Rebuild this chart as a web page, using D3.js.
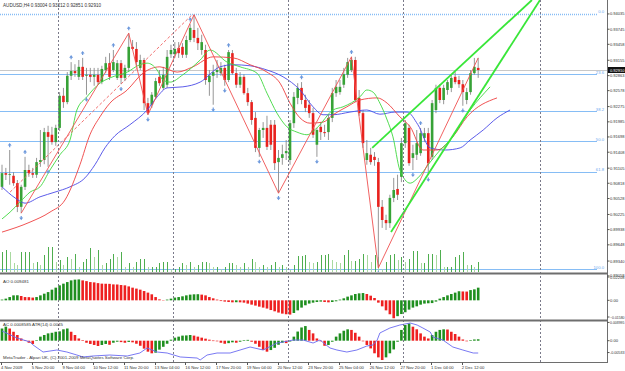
<!DOCTYPE html>
<html><head><meta charset="utf-8">
<script src="https://cdn.jsdelivr.net/npm/d3@7"></script>
<style>
body{margin:0;background:#fff;overflow:hidden}
svg{display:block;font-family:"Liberation Sans",Arial,sans-serif}
</style></head><body>
<svg id="chart" width="625" height="371"></svg>
<script>
// AUDUSD H4 bars, [open, high, low, close]
const ohlc = [
[0.9075,0.9117,0.9069,0.9101],[0.9101,0.9111,0.9088,0.9098],[0.9098,0.9145,0.9079,0.9099],[0.9096,0.9103,0.9077,0.9082],
[0.9082,0.9088,0.9027,0.9037],[0.9037,0.9079,0.9025,0.9075],[0.9075,0.9132,0.9069,0.9107],[0.9107,0.9117,0.9094,0.9101],
[0.9101,0.9111,0.9092,0.9098],[0.9098,0.9130,0.9092,0.9122],[0.9122,0.9183,0.9113,0.9126],[0.9126,0.9187,0.9118,0.9179],
[0.9179,0.9191,0.9113,0.9170],[0.9174,0.9189,0.9155,0.9160],[0.9160,0.9193,0.9153,0.9187],[0.9187,0.9255,0.9181,0.9248],
[0.9248,0.9263,0.9225,0.9236],[0.9236,0.9293,0.9232,0.9286],[0.9286,0.9312,0.9278,0.9295],[0.9295,0.9308,0.9284,0.9291],
[0.9284,0.9316,0.9278,0.9303],[0.9303,0.9320,0.9278,0.9284],[0.9286,0.9301,0.9250,0.9288],[0.9288,0.9301,0.9274,0.9284],
[0.9284,0.9301,0.9267,0.9288],[0.9288,0.9301,0.9270,0.9274],[0.9274,0.9305,0.9270,0.9299],[0.9297,0.9322,0.9291,0.9310],
[0.9310,0.9329,0.9278,0.9284],[0.9297,0.9335,0.9293,0.9312],[0.9282,0.9316,0.9278,0.9310],[0.9310,0.9316,0.9270,0.9282],
[0.9282,0.9307,0.9276,0.9301],[0.9301,0.9367,0.9293,0.9341],[0.9341,0.9354,0.9335,0.9337],[0.9337,0.9350,0.9305,0.9312],
[0.9301,0.9326,0.9297,0.9316],[0.9316,0.9320,0.9221,0.9234],[0.9234,0.9244,0.9212,0.9215],[0.9231,0.9255,0.9225,0.9250],
[0.9246,0.9282,0.9242,0.9276],[0.9284,0.9297,0.9267,0.9272],[0.9263,0.9303,0.9259,0.9288],[0.9269,0.9335,0.9263,0.9322],
[0.9327,0.9345,0.9320,0.9335],[0.9327,0.9350,0.9320,0.9337],[0.9339,0.9350,0.9320,0.9329],[0.9341,0.9348,0.9320,0.9326],
[0.9326,0.9362,0.9320,0.9354],[0.9354,0.9384,0.9350,0.9377],[0.9373,0.9402,0.9350,0.9358],[0.9358,0.9377,0.9335,0.9348],
[0.9335,0.9364,0.9326,0.9350],[0.9335,0.9345,0.9269,0.9278],[0.9274,0.9297,0.9248,0.9286],[0.9286,0.9307,0.9231,0.9293],
[0.9293,0.9316,0.9282,0.9297],[0.9291,0.9312,0.9286,0.9301],[0.9301,0.9307,0.9267,0.9278],[0.9278,0.9335,0.9274,0.9331],
[0.9329,0.9335,0.9288,0.9291],[0.9291,0.9301,0.9263,0.9269],[0.9269,0.9293,0.9263,0.9284],[0.9284,0.9289,0.9250,0.9253],
[0.9253,0.9263,0.9229,0.9236],[0.9236,0.9240,0.9193,0.9202],[0.9206,0.9217,0.9141,0.9149],[0.9149,0.9187,0.9132,0.9183],
[0.9183,0.9198,0.9168,0.9187],[0.9187,0.9210,0.9145,0.9151],[0.9193,0.9202,0.9145,0.9155],[0.9193,0.9202,0.9107,0.9120],
[0.9122,0.9145,0.9063,0.9130],[0.9130,0.9155,0.9117,0.9137],[0.9139,0.9164,0.9126,0.9143],[0.9126,0.9202,0.9117,0.9196],
[0.9196,0.9255,0.9187,0.9246],[0.9244,0.9272,0.9232,0.9263],[0.9263,0.9274,0.9232,0.9240],[0.9240,0.9250,0.9217,0.9225],
[0.9231,0.9240,0.9206,0.9215],[0.9215,0.9225,0.9168,0.9174],[0.9155,0.9187,0.9132,0.9183],[0.9189,0.9198,0.9164,0.9179],
[0.9179,0.9193,0.9170,0.9177],[0.9179,0.9212,0.9164,0.9206],[0.9206,0.9263,0.9198,0.9253],[0.9253,0.9278,0.9246,0.9265],
[0.9255,0.9278,0.9250,0.9265],[0.9269,0.9301,0.9263,0.9289],[0.9288,0.9320,0.9282,0.9312],[0.9297,0.9322,0.9293,0.9316],
[0.9316,0.9322,0.9236,0.9240],[0.9244,0.9259,0.9210,0.9215],[0.9215,0.9221,0.9149,0.9158],[0.9126,0.9164,0.9117,0.9139],
[0.9136,0.9149,0.9117,0.9122],[0.9132,0.9141,0.9115,0.9126],[0.9122,0.9130,0.8921,0.9037],[0.9037,0.9050,0.8997,0.9012],
[0.9012,0.9022,0.8993,0.9006],[0.9006,0.9060,0.8997,0.9054],[0.9054,0.9092,0.9046,0.9069],[0.9071,0.9098,0.9050,0.9060],
[0.9094,0.9168,0.9084,0.9158],[0.9158,0.9202,0.9149,0.9196],[0.9187,0.9193,0.9115,0.9120],[0.9130,0.9155,0.9107,0.9139],
[0.9136,0.9183,0.9126,0.9158],[0.9139,0.9187,0.9134,0.9177],[0.9168,0.9187,0.9160,0.9177],[0.9177,0.9187,0.9098,0.9120],
[0.9132,0.9240,0.9126,0.9234],[0.9221,0.9269,0.9215,0.9263],[0.9263,0.9270,0.9234,0.9240],[0.9240,0.9269,0.9232,0.9263],
[0.9259,0.9278,0.9250,0.9274],[0.9263,0.9288,0.9255,0.9282],[0.9284,0.9293,0.9270,0.9274],[0.9278,0.9286,0.9263,0.9270],
[0.9270,0.9278,0.9229,0.9255],[0.9240,0.9263,0.9232,0.9255],[0.9255,0.9297,0.9250,0.9291],[0.9291,0.9320,0.9288,0.9303],
[0.9301,0.9320,0.9282,0.9297]
];

const volume = [4000,4400,4000,1800,1400,4000,4000,4000,1800,2000,1400,3400,5000,5000,2000,2400,1400,3000,2600,3600,
1000,2000,2600,4800,3000,4400,1400,1800,2600,3600,3000,4000,1000,1800,1000,2000,2600,2600,1000,1000,1000,1800,2000,2000,
600,600,1000,1800,1400,2000,1000,1400,2000,2000,1800,1000,1000,600,1000,1800,1800,1400,1000,1800,1000,2600,2000,1000,
1400,1000,1400,2000,1000,1400,1000,400,1400,3200,3200,3400,2000,1800,2000,3400,3400,3600,2400,2000,1800,3400,4400,2200,
2200,2600,3600,3400,2000,3400,3000,600,2000,3400,3600,2400,3000,2000,2600,4200,4200,1800,1800,3600,3600,3400,4400,1000,
1000,1000,3000,3400,4000,1400,1400,1000,2000];

const ao = [0.0007,0.0016,0.0031,0.0047,0.0048,0.0041,0.0031,0.0030,0.0026,0.0031,0.0047,0.0063,0.0078,0.0101,0.0120,
0.0142,0.0158,0.0173,0.0189,0.0196,0.0198,0.0189,0.0182,0.0173,0.0170,0.0163,0.0158,0.0157,0.0156,0.0151,0.0150,0.0145,
0.0142,0.0132,0.0120,0.0111,0.0101,0.0088,0.0073,0.0057,0.0031,0.0009,0.0003,0.0007,0.0016,0.0026,0.0031,0.0038,0.0047,
0.0054,0.0057,0.0058,0.0054,0.0047,0.0031,0.0019,0.0007,-0.0007,-0.0012,-0.0016,-0.0019,-0.0018,-0.0019,-0.0022,-0.0031,
-0.0041,-0.0050,-0.0060,-0.0069,-0.0078,-0.0092,-0.0104,-0.0116,-0.0126,-0.0132,-0.0135,-0.0120,-0.0095,-0.0069,-0.0047,
-0.0031,-0.0022,-0.0016,-0.0012,-0.0016,-0.0019,-0.0016,-0.0009,0.0007,0.0019,0.0035,0.0047,0.0060,0.0066,0.0069,0.0060,
0.0044,0.0022,-0.0022,-0.0057,-0.0095,-0.0132,-0.0170,-0.0150,-0.0130,-0.0113,-0.0088,-0.0069,-0.0057,-0.0041,-0.0031,
-0.0028,-0.0026,-0.0012,0.0016,0.0031,0.0047,0.0060,0.0073,0.0086,0.0084,0.0083,0.0097,0.0104,0.0120];

const ac = [0.0060,0.0069,0.0060,0.0044,0.0028,0.0011,0.0003,-0.0010,-0.0016,0.0003,0.0020,0.0028,0.0036,0.0039,0.0044,
0.0046,0.0056,0.0060,0.0044,0.0028,0.0011,0.0003,-0.0010,-0.0016,-0.0021,-0.0026,-0.0021,-0.0016,-0.0020,-0.0010,-0.0005,
-0.0007,-0.0010,-0.0006,-0.0008,-0.0015,-0.0025,-0.0039,-0.0054,-0.0062,-0.0059,-0.0044,-0.0030,-0.0015,0.0005,0.0015,
0.0020,0.0025,0.0026,0.0028,0.0025,0.0020,0.0015,0.0010,0.0005,0.0001,-0.0003,-0.0010,-0.0015,-0.0012,-0.0008,-0.0010,
-0.0005,0.0002,0.0004,-0.0005,-0.0015,-0.0030,-0.0045,-0.0054,-0.0046,-0.0035,-0.0020,-0.0010,-0.0012,-0.0004,0.0020,
0.0045,0.0065,0.0072,0.0053,0.0036,0.0011,0.0000,-0.0025,-0.0021,-0.0005,0.0020,0.0036,0.0049,0.0056,0.0053,0.0039,
0.0020,0.0000,-0.0021,-0.0038,-0.0062,-0.0082,-0.0095,-0.0082,-0.0062,-0.0043,-0.0005,0.0053,0.0077,0.0085,0.0069,0.0056,
0.0036,0.0020,0.0011,0.0028,0.0044,0.0053,0.0056,0.0055,0.0044,0.0033,0.0020,0.0006,0.0000,0.0003,0.0006,0.0007];

// ATR(14) line, [bar, value]
const atr = [[0,0.00743],[3.9,0.0065],[7.3,0.00597],[8.1,0.00557],[10.7,0.00463],[14.3,0.0049],[16.9,0.00463],[19.5,0.00423],
[21.1,0.00397],[23.7,0.0041],[28.1,0.00423],[32.6,0.0041],[35.9,0.0045],[37.8,0.00517],[40.4,0.00463],[43,0.0045],[46.4,0.00397],
[50.8,0.00383],[51.6,0.00357],[53.4,0.00423],[56,0.0045],[59.4,0.0045],[62,0.0049],[64.6,0.0053],[68,0.0049],[71.6,0.00583],
[73.2,0.00597],[75.8,0.00623],[78.4,0.00623],[81,0.00583],[82.8,0.00623],[85.4,0.00517],[87.2,0.0049],[89.8,0.00463],
[92.4,0.0049],[95,0.00543],[96.6,0.00557],[97.7,0.00623],[98.4,0.00717],[101,0.00783],[103.6,0.00823],[106.3,0.0085],
[108.1,0.00823],[109.6,0.00783],[111.5,0.0073],[112.2,0.00663],[114.8,0.00623],[117.4,0.0053],[120,0.0049],[122.7,0.0045],[124,0.0045]];

// Alligator, [bar incl. shift, price]
const jaw = [[0,0.9075],[3.4,0.9054],[6,0.9044],[9.9,0.9056],[13.8,0.9065],[17.7,0.9075],[21.6,0.9092],[24.2,0.9117],[26.8,0.9149],
[29.4,0.9172],[33.3,0.9193],[37.8,0.9221],[40.4,0.9246],[43,0.9263],[47.1,0.9265],[51.6,0.9274],[56.8,0.9303],[60.2,0.9307],
[64.6,0.9305],[69,0.9297],[73.2,0.9284],[77.6,0.9259],[81,0.9227],[83.6,0.9212],[86.2,0.9212],[90.6,0.9217],[95,0.9221],
[98.4,0.9213],[102.3,0.9217],[105.5,0.9217],[108.3,0.9193],[111.5,0.9149],[115.4,0.9145],[119.3,0.9149],[121.9,0.9164],
[125.3,0.9183],[128.9,0.9206],[132.3,0.9221]];
const teeth = [[0,0.8989],[7.3,0.9008],[12.5,0.9027],[16.4,0.9050],[20.3,0.9117],[22.9,0.9174],[25.5,0.9208],[28.1,0.9234],
[32.6,0.9259],[36.7,0.9291],[41.1,0.9303],[45.6,0.9293],[49.7,0.9303],[55,0.9322],[60.2,0.9320],[64.6,0.9307],[69,0.9293],
[72.4,0.9272],[75,0.9234],[77.6,0.9206],[80.2,0.9196],[83.6,0.9198],[86.2,0.9212],[89.8,0.9227],[93.2,0.9240],[97.7,0.9244],
[100.3,0.9234],[103.6,0.9208],[106.3,0.9189],[109.6,0.9145],[113.3,0.9145],[117.4,0.9170],[121.1,0.9208],[128.9,0.9244]];
const lips = [[0,0.9014],[2.1,0.9027],[4.7,0.9046],[7.3,0.9065],[9.9,0.9075],[12.5,0.9107],[15.1,0.9136],[17.7,0.9164],
[19.5,0.9221],[22.1,0.9246],[25.5,0.9272],[28.1,0.9282],[32.6,0.9293],[35.9,0.9307],[37.8,0.9310],[40.4,0.9297],[41.9,0.9278],
[43.8,0.9274],[47.1,0.9288],[51.6,0.9316],[54.2,0.9335],[58.6,0.9312],[62,0.9303],[66.4,0.9291],[69,0.9253],[71.6,0.9215],
[74.2,0.9189],[76.8,0.9179],[79.4,0.9174],[82,0.9187],[86.2,0.9221],[88.8,0.9227],[93.2,0.9246],[95,0.9259],[96.6,0.9255],
[98.4,0.9234],[100.3,0.9202],[101.8,0.9170],[103.6,0.9107],[106.3,0.9082],[108.3,0.9092],[111.5,0.9122],[114.1,0.9145],
[116.7,0.9164],[121.9,0.9221],[127.1,0.9265]];

const zigzag = [[5,"L"],[33,"H"],[38,"L"],[50,"H"],[72,"L"],[91,"H"],[98,"L"],[124,"H"]];
const fractalUp = [2,6,18,21,29,33,49,59,78,91,109];
const fractalDown = [5,12,22,31,38,55,58,67,72,82,98,107,111,120];
const channelUpper = [[96.4,0.9149],[138.0,0.9430]];
const channelLower = [[101.3,0.8989],[140.1,0.9430]];
const dashedTrend = [[2.1,0.9065],[49.5,0.9402]];

const fibLevels = [0.0,23.6,38.2,50.0,61.8,100.0];
const fibHigh = 0.94035, fibLow = 0.89189;

const priceTicks = [0.94035,0.93745,0.93458,0.93155,0.92863,0.92578,0.92275,0.91985,0.91698,0.91408,0.91105,0.90818,
0.90528,0.90225,0.89938,0.89648,0.89340,0.89058];
const aoTicks = [0.02208,0,-0.01580];
const acTicks = [0.008995,0,-0.00583];

const separators = [14.6,44.6,74.6,104.5,140.2];
const dateIdx = [0,8,16,24,32,40,48,56,64,72,80,88,96,104,112,120];
const dateLabels = ["4 Nov 2009","5 Nov 20:00","9 Nov 04:00","10 Nov 12:00","11 Nov 20:00","13 Nov 04:00","16 Nov 12:00",
"17 Nov 20:00","19 Nov 04:00","20 Nov 12:00","23 Nov 20:00","25 Nov 04:00","26 Nov 12:00","27 Nov 20:00","1 Dec 04:00","2 Dec 12:00"];

const headerText = "AUDUSD,H4  0.93004 0.93212 0.92851 0.92910";
const bidText = "0.92910";

const axisX = 607;
const svg = d3.select("#chart");

const x = d3.scaleLinear().domain([0, 124]).range([2, 478.2]);
const yPrice = d3.scaleLinear().domain([0.89132, 0.9430]).range([272, 0]);
const yVol = d3.scaleLinear().domain([0, 5000]).range([272, 247]);
const yAO = d3.scaleLinear().domain([-0.0158, 0.0221]).range([317, 277]);
const yAC = d3.scaleLinear().domain([-0.0092, 0.0092]).range([359.4, 322]);
const yATR = d3.scaleLinear().domain([0.0045, 0.0085]).range([353, 323]);

const defs = svg.append("defs");
const addClip = (id, y0, y1) => defs.append("clipPath").attr("id", id)
    .append("rect").attr("x", 0).attr("y", y0).attr("width", axisX).attr("height", y1 - y0);
addClip("clipMain", 0, 272);
addClip("clipAO", 275, 320);
addClip("clipAC", 322, 362);

const main = svg.append("g").attr("clip-path", "url(#clipMain)");
const aoG = svg.append("g").attr("clip-path", "url(#clipAO)");
const acG = svg.append("g").attr("clip-path", "url(#clipAC)");

// fibo levels
const fibPrice = l => fibHigh - (fibHigh - fibLow) * l / 100;
main.selectAll(".fib").data(fibLevels).join("line")
    .attr("x1", 0).attr("x2", 597)
    .attr("y1", d => Math.round(yPrice(fibPrice(d))) + 0.5).attr("y2", d => Math.round(yPrice(fibPrice(d))) + 0.5)
    .attr("stroke", "#86bdf5").attr("stroke-width", d => d === 0 ? 1.3 : 1)
    .attr("stroke-dasharray", d => d === 0 ? "1,1" : null);

// bid line
const last = ohlc[ohlc.length - 1];
main.append("line").attr("x1", 0).attr("x2", axisX)
    .attr("y1", Math.round(yPrice(last[3])) + 0.5).attr("y2", Math.round(yPrice(last[3])) + 0.5)
    .attr("stroke", "#c8c8c8");

// period separators
svg.selectAll(".sep").data(separators).join("line")
    .attr("x1", d => Math.round(x(d)) + 0.5).attr("x2", d => Math.round(x(d)) + 0.5)
    .attr("y1", 0).attr("y2", 362)
    .attr("stroke", "#7a7a8a").attr("stroke-dasharray", "2,2");

// volumes
main.selectAll(".vol").data(volume).join("line")
    .attr("x1", (d, i) => Math.round(x(i)) + 0.5).attr("x2", (d, i) => Math.round(x(i)) + 0.5)
    .attr("y1", yVol(0)).attr("y2", d => yVol(d))
    .attr("stroke", (d, i) => i > 0 && d < volume[i - 1] ? "#a9d9a0" : "#4fae4f");

// candles
const candles = main.selectAll(".candle").data(ohlc).join("g");
candles.append("line")
    .attr("x1", (d, i) => x(i)).attr("x2", (d, i) => x(i))
    .attr("y1", d => yPrice(d[1])).attr("y2", d => yPrice(d[2]))
    .attr("stroke", "#8a8a8a").attr("stroke-width", 0.9);
candles.append("rect")
    .attr("x", (d, i) => x(i) - 1.3).attr("width", 2.6)
    .attr("y", d => yPrice(Math.max(d[0], d[3])))
    .attr("height", d => Math.max(0.8, Math.abs(yPrice(d[0]) - yPrice(d[3]))))
    .attr("fill", d => d[3] >= d[0] ? "#37a237" : "#e8221e");

// alligator
const priceLine = d3.line().x(d => x(d[0])).y(d => yPrice(d[1])).curve(d3.curveMonotoneX);
main.append("path").attr("d", priceLine(jaw)).attr("fill", "none").attr("stroke", "#4a4ae6").attr("stroke-width", 0.9);
main.append("path").attr("d", priceLine(teeth)).attr("fill", "none").attr("stroke", "#ee4040").attr("stroke-width", 0.9);
main.append("path").attr("d", priceLine(lips)).attr("fill", "none").attr("stroke", "#3ed83e").attr("stroke-width", 0.9);

// zigzag
const zzLine = d3.line().x(d => x(d[0])).y(d => yPrice(d[1]));
main.append("path")
    .attr("d", zzLine(zigzag.map(([i, t]) => [i, t === "H" ? ohlc[i][1] : ohlc[i][2]])))
    .attr("fill", "none").attr("stroke", "#ef5050").attr("stroke-width", 0.9);
main.append("path").attr("d", zzLine(dashedTrend))
    .attr("fill", "none").attr("stroke", "#ef6060").attr("stroke-width", 0.9).attr("stroke-dasharray", "3,2");

// green channel
[channelUpper, channelLower].forEach(c => {
    main.append("path").attr("d", zzLine(c)).attr("fill", "none")
        .attr("stroke", "#39e639").attr("stroke-width", 1.8);
});

// fractals
main.selectAll(".fu").data(fractalUp).join("path")
    .attr("transform", i => `translate(${x(i)},${yPrice(ohlc[i][1]) - 5})`)
    .attr("d", "M0,-2L2,0.6L0.6,0.6L0.6,2.2L-0.6,2.2L-0.6,0.6L-2,0.6Z")
    .attr("fill", "#6c98dc");
main.selectAll(".fd").data(fractalDown).join("path")
    .attr("transform", i => `translate(${x(i)},${yPrice(ohlc[i][2]) + 5})`)
    .attr("d", "M0,2L2,-0.6L0.6,-0.6L0.6,-2.2L-0.6,-2.2L-0.6,-0.6L-2,-0.6Z")
    .attr("fill", "#6c98dc");

// fibo labels
svg.selectAll(".fibl").data(fibLevels).join("text")
    .attr("x", 604).attr("y", d => yPrice(fibPrice(d)) - 0.5)
    .attr("text-anchor", "end").attr("font-size", 4.2).attr("fill", "#6aa9ef")
    .text(d => d3.format(".1f")(d));

// AO
const aoColor = (arr, i) => i > 0 && arr[i] < arr[i - 1] ? "#ee2020" : "#1f8f1f";
aoG.selectAll(".ao").data(ao).join("rect")
    .attr("x", (d, i) => x(i) - 1.3).attr("width", 2.6)
    .attr("y", d => Math.min(yAO(d), yAO(0))).attr("height", d => Math.abs(yAO(d) - yAO(0)))
    .attr("fill", (d, i) => aoColor(ao, i));

// AC + ATR
acG.selectAll(".ac").data(ac).join("rect")
    .attr("x", (d, i) => x(i) - 1.3).attr("width", 2.6)
    .attr("y", d => Math.min(yAC(d), yAC(0))).attr("height", d => Math.max(0.6, Math.abs(yAC(d) - yAC(0))))
    .attr("fill", (d, i) => aoColor(ac, i));
acG.append("path")
    .attr("d", d3.line().x(d => x(d[0])).y(d => yATR(d[1]))(atr))
    .attr("fill", "none").attr("stroke", "#6a6af0").attr("stroke-width", 0.9);

// frames
const frame = svg.append("g").attr("stroke", "#6e6e6e").attr("fill", "none");
frame.append("line").attr("x1", axisX + 0.5).attr("x2", axisX + 0.5).attr("y1", 0).attr("y2", 363);
frame.append("line").attr("x1", 0).attr("x2", axisX).attr("y1", 273.5).attr("y2", 273.5).attr("stroke-width", 2);
frame.append("line").attr("x1", 0).attr("x2", axisX).attr("y1", 320.5).attr("y2", 320.5).attr("stroke-width", 2);
frame.append("line").attr("x1", 0).attr("x2", axisX + 1).attr("y1", 362.5).attr("y2", 362.5);

// right axes; labels longer than the space to the window edge get a smaller font
const labelRoom = 625 - (axisX + 3) - 0.5;
const rightAxis = (ticks, scale, fmt) => {
    const g = svg.append("g");
    g.selectAll("line").data(ticks).join("line")
        .attr("x1", axisX).attr("x2", axisX + 2.5)
        .attr("y1", d => scale(d)).attr("y2", d => scale(d)).attr("stroke", "#555");
    g.selectAll("text").data(ticks).join("text")
        .attr("x", axisX + 3).attr("y", d => scale(d) + 1.5)
        .attr("font-size", 4.2).attr("fill", "#333").text(fmt)
        .each(function() {
            const w = this.getComputedTextLength();
            if (w > labelRoom) d3.select(this).attr("font-size", 4.2 * labelRoom / w);
        });
};
rightAxis(priceTicks, yPrice, d3.format(".5f"));
rightAxis(aoTicks, yAO, d => d === 0 ? "0.00" : d3.format(".5f")(d));
rightAxis(acTicks, yAC, d => d === 0 ? "0.00" : String(d));

// bid box
const bidY = yPrice(last[3]);
svg.append("rect").attr("x", axisX + 1).attr("y", bidY - 3).attr("width", 17).attr("height", 6).attr("fill", "#111");
svg.append("text").attr("x", axisX + 3).attr("y", bidY + 1.5).attr("font-size", 4.2).attr("fill", "#fff")
    .text(bidText)
    .each(function() {
        const w = this.getComputedTextLength();
        if (w > labelRoom) d3.select(this).attr("font-size", 4.2 * labelRoom / w);
    });

// time axis
const tg = svg.append("g");
tg.selectAll("line").data(dateIdx).join("line")
    .attr("x1", d => Math.round(x(d)) - 0.5).attr("x2", d => Math.round(x(d)) - 0.5)
    .attr("y1", 362.5).attr("y2", 365).attr("stroke", "#555");
tg.selectAll("text").data(dateIdx).join("text")
    .attr("x", (d, i) => i === 0 ? 1 : x(d) - 1).attr("y", 369)
    .attr("font-size", 4.2).attr("fill", "#333")
    .text((d, i) => dateLabels[i]);

// captions
svg.append("text").attr("x", 3).attr("y", 7).attr("font-size", 4.6).attr("fill", "#333").text(headerText);
svg.append("text").attr("x", 3).attr("y", 283).attr("font-size", 4.4).attr("fill", "#333").text("AO 0.009481");
svg.append("text").attr("x", 3).attr("y", 326).attr("font-size", 4.4).attr("fill", "#333").text("AC 0.0008585   ATR(14) 0.0045");
svg.append("text").attr("x", 3).attr("y", 359).attr("font-size", 4.4).attr("fill", "#333")
    .text("MetaTrader - Alpari UK, (C) 2001-2009 MetaQuotes Software Corp.");
</script></body></html>
